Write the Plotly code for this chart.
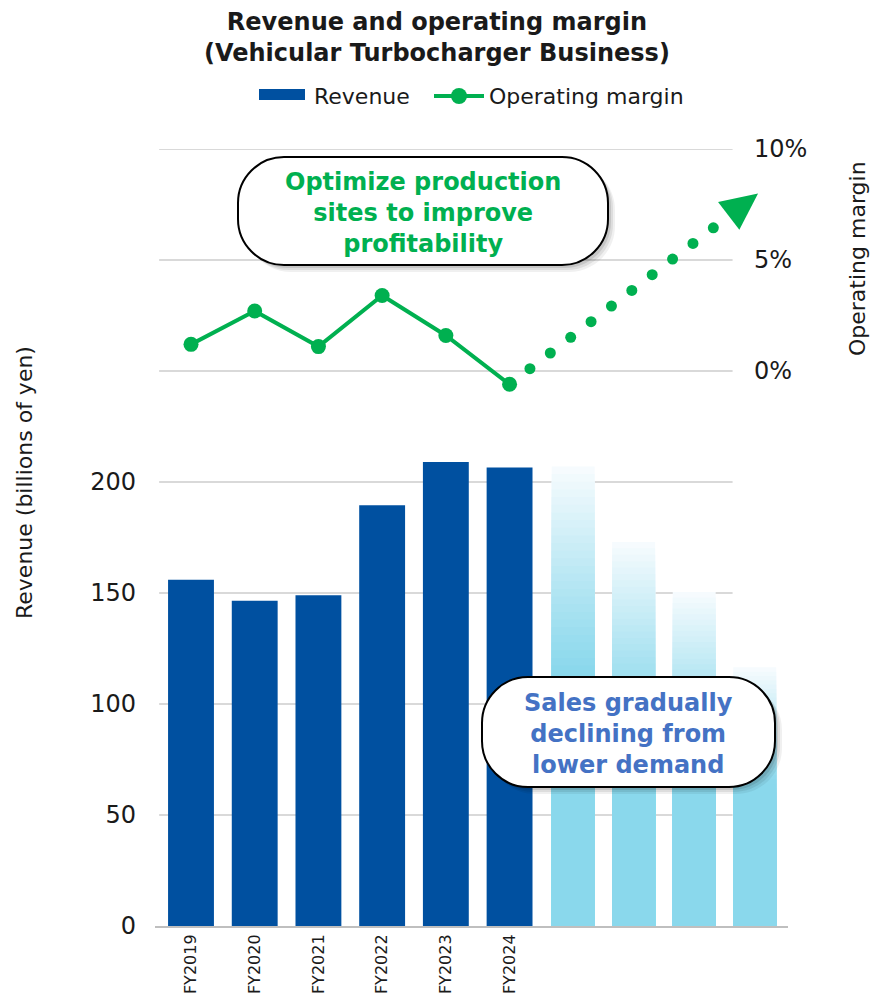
import numpy as np
import plotly.graph_objects as go

# ---- data -------------------------------------------------------------
fiscal_years = ["FY2019", "FY2020", "FY2021", "FY2022", "FY2023", "FY2024"]
revenue = [156, 146.5, 149, 189.5, 209, 206.5]            # billions of yen
operating_margin = [1.2, 2.7, 1.1, 3.4, 1.6, -0.6]        # %
outlook_revenue = [207, 173, 150.5, 116.5]                # faded outlook bars

revenue_ticks = [0, 50, 100, 150, 200]
margin_ticks = [0, 5, 10]
margin_tick_text = ["0%", "5%", "10%"]

# illustrative upward trend arrow for the margin
trend_tip = (8.9, 8.0)        # (slot, %)
trend_dots = 11
trend_step = 0.082

# ---- styling ----------------------------------------------------------
NAVY = "#0050A0"
GREEN = "#00B050"
SKY = np.array([138, 216, 236])
WHITE = np.array([248, 252, 254])
GRID = "#D9D9D9"
AXIS = "#BFBFBF"
FONT = "DejaVu Sans"
TEXT = "#1a1a1a"

W, H = 873, 996
ML, MR, MT, MB = 155, 85, 149, 70
PW, PH = W - ML - MR, H - MT - MB

X_RANGE = [-0.565, 9.37]
X2_RANGE = [-6.91, 3.55]
Y_RANGE = [0, 350]
Y2_RANGE = [-25, 10]


def px(x):
    return (x - ML) / PW


def py(y):
    return (H - MB - y) / PH


fig = go.Figure()

# actual revenue bars
fig.add_trace(go.Bar(
    x=fiscal_years, y=revenue, width=0.72,
    marker=dict(color=NAVY, line=dict(width=0)),
    name="Revenue", showlegend=False,
))

# outlook bars with a vertical fade: overlapping bars, tallest (palest) first
N = 60
for k in range(N):
    frac_top = 1 - k / N
    f = 1 - (k + 0.5) / N
    t = np.clip((f - 0.55) / 0.45, 0, 1) ** 1.1
    c = SKY + (WHITE - SKY) * t
    fig.add_trace(go.Bar(
        x=list(range(len(outlook_revenue))),
        y=[v * frac_top for v in outlook_revenue],
        width=0.71, xaxis="x2", yaxis="y",
        marker=dict(color=f"rgb({c[0]:.0f},{c[1]:.0f},{c[2]:.0f})", line=dict(width=0)),
        showlegend=False, hoverinfo="skip",
    ))

# operating margin line
fig.add_trace(go.Scatter(
    x=fiscal_years, y=operating_margin, yaxis="y2",
    mode="lines+markers",
    line=dict(color=GREEN, width=4),
    marker=dict(color=GREEN, size=15),
    name="Operating margin", showlegend=False, cliponaxis=False,
))

# dotted trend toward the tip (numeric slot axis)
start_x, start_y = len(fiscal_years) - 1, operating_margin[-1]
tt = trend_step * np.arange(1, trend_dots + 1)
fig.add_trace(go.Scatter(
    x=start_x + (trend_tip[0] - start_x) * tt,
    y=start_y + (trend_tip[1] - start_y) * tt,
    xaxis="x3", yaxis="y2", mode="markers",
    marker=dict(color=GREEN, size=11),
    showlegend=False, hoverinfo="skip", cliponaxis=False,
))

shapes = []

# gridlines over the chart slots
for v in revenue_ticks[1:]:
    shapes.append(dict(type="line", xref="x3", yref="y", x0=-0.5, x1=8.5, y0=v, y1=v,
                       line=dict(color=GRID, width=2), layer="below"))
for v in margin_ticks:
    shapes.append(dict(type="line", xref="x3", yref="y2", x0=-0.5, x1=8.5, y0=v, y1=v,
                       line=dict(color=GRID, width=2), layer="below"))

# arrowhead at the end of the trend (pixel path, y grows upward)
sx = PW / (X_RANGE[1] - X_RANGE[0])
sy = PH / (Y2_RANGE[1] - Y2_RANGE[0])
dvec = np.array([(trend_tip[0] - start_x) * sx, (trend_tip[1] - start_y) * sy])
u = dvec / np.linalg.norm(dvec)
nrm = np.array([-u[1], u[0]])
base = -37 * u
p1 = base + 17.5 * nrm
p2 = base - 17.5 * nrm
shapes.append(dict(
    type="path", xref="x3", yref="y2", xsizemode="pixel", ysizemode="pixel",
    xanchor=trend_tip[0], yanchor=trend_tip[1],
    path=f"M0,0 L{p1[0]:.1f},{p1[1]:.1f} L{p2[0]:.1f},{p2[1]:.1f} Z",
    fillcolor=GREEN, line=dict(width=0), layer="above",
))


def rounded_rect(w, h, r, ox=0.0, oy=0.0):
    k = 0.5523 * r
    x0, x1 = -w / 2 + ox, w / 2 + ox
    y0, y1 = -h / 2 + oy, h / 2 + oy
    return (f"M{x0 + r},{y1} L{x1 - r},{y1} C{x1 - r + k},{y1} {x1},{y1 - r + k} {x1},{y1 - r} "
            f"L{x1},{y0 + r} C{x1},{y0 + r - k} {x1 - r + k},{y0} {x1 - r},{y0} "
            f"L{x0 + r},{y0} C{x0 + r - k},{y0} {x0},{y0 + r - k} {x0},{y0 + r} "
            f"L{x0},{y1 - r} C{x0},{y1 - r + k} {x0 + r - k},{y1} {x0 + r},{y1} Z")


def callout(cx, cy, w, h, r):
    out = []
    for off, a in [(7, 0.06), (5, 0.08), (3, 0.10)]:
        out.append(dict(type="path", xref="paper", yref="paper",
                        xsizemode="pixel", ysizemode="pixel",
                        xanchor=px(cx), yanchor=py(cy),
                        path=rounded_rect(w, h, r, off, -off),
                        fillcolor=f"rgba(0,0,0,{a})", line=dict(width=0), layer="above"))
    out.append(dict(type="path", xref="paper", yref="paper",
                    xsizemode="pixel", ysizemode="pixel",
                    xanchor=px(cx), yanchor=py(cy),
                    path=rounded_rect(w, h, r),
                    fillcolor="white", line=dict(color="black", width=2), layer="above"))
    return out


shapes += callout(423, 211, 370, 108, 46)
shapes += callout(628.5, 732, 293, 110, 46)

# legend swatches
shapes.append(dict(type="rect", xref="paper", yref="paper",
                   x0=px(259), x1=px(305), y0=py(100), y1=py(89),
                   fillcolor=NAVY, line=dict(width=0)))
shapes.append(dict(type="line", xref="paper", yref="paper",
                   x0=px(434), x1=px(484), y0=py(96), y1=py(96),
                   line=dict(color=GREEN, width=4)))
shapes.append(dict(type="circle", xref="paper", yref="paper",
                   x0=px(451), x1=px(467), y0=py(104), y1=py(88),
                   fillcolor=GREEN, line=dict(width=0)))

annotations = [
    dict(text="<b>Revenue and operating margin<br>(Vehicular Turbocharger Business)</b>",
         xref="paper", yref="paper", x=px(436.5), y=py(6),
         xanchor="center", yanchor="top", showarrow=False,
         font=dict(family=FONT, size=24, color=TEXT)),
    dict(text="Revenue", xref="paper", yref="paper", x=px(312), y=py(96),
         xanchor="left", yanchor="middle", showarrow=False,
         font=dict(family=FONT, size=22, color=TEXT)),
    dict(text="Operating margin", xref="paper", yref="paper", x=px(487), y=py(96),
         xanchor="left", yanchor="middle", showarrow=False,
         font=dict(family=FONT, size=22, color=TEXT)),
    dict(text="Revenue (billions of yen)", xref="paper", yref="paper",
         x=px(25), y=py(483), textangle=-90, showarrow=False,
         xanchor="center", yanchor="middle",
         font=dict(family=FONT, size=22, color=TEXT)),
    dict(text="Operating margin", xref="paper", yref="paper",
         x=px(857), y=py(258), textangle=-90, showarrow=False,
         xanchor="center", yanchor="middle",
         font=dict(family=FONT, size=22, color=TEXT)),
    dict(text="<b>Optimize production<br>sites to improve<br>profitability</b>",
         xref="paper", yref="paper", x=px(423), y=py(213), showarrow=False,
         xanchor="center", yanchor="middle",
         font=dict(family=FONT, size=24, color=GREEN)),
    dict(text="<b>Sales gradually<br>declining from<br>lower demand</b>",
         xref="paper", yref="paper", x=px(628.5), y=py(734), showarrow=False,
         xanchor="center", yanchor="middle",
         font=dict(family=FONT, size=24, color="#4472C4")),
]

fig.update_layout(
    width=W, height=H,
    margin=dict(l=ML, r=MR, t=MT, b=MB, autoexpand=False),
    paper_bgcolor="white", plot_bgcolor="white",
    barmode="overlay",
    font=dict(family=FONT, color=TEXT),
    xaxis=dict(type="category", categoryorder="array", categoryarray=fiscal_years,
               range=X_RANGE, showgrid=False, zeroline=False, automargin=False,
               showline=True, linecolor=AXIS, linewidth=2,
               tickangle=-90, ticks="", tickfont=dict(family=FONT, size=16, color=TEXT)),
    xaxis2=dict(overlaying="x", range=X2_RANGE, visible=False),
    xaxis3=dict(overlaying="x", range=X_RANGE, visible=False),
    yaxis=dict(range=Y_RANGE, tickvals=revenue_ticks, showgrid=False, zeroline=False,
               showline=False, ticks="", ticklabelstandoff=18, automargin=False,
               tickfont=dict(family=FONT, size=24, color=TEXT)),
    yaxis2=dict(range=Y2_RANGE, tickvals=margin_ticks, ticktext=margin_tick_text,
                overlaying="y", side="right", anchor="free", position=px(733),
                showgrid=False, zeroline=False, showline=False, ticks="",
                ticklabelstandoff=20, automargin=False,
                tickfont=dict(family=FONT, size=24, color=TEXT)),
    shapes=shapes,
    annotations=annotations,
    showlegend=False,
)

fig.write_html("out.html")
